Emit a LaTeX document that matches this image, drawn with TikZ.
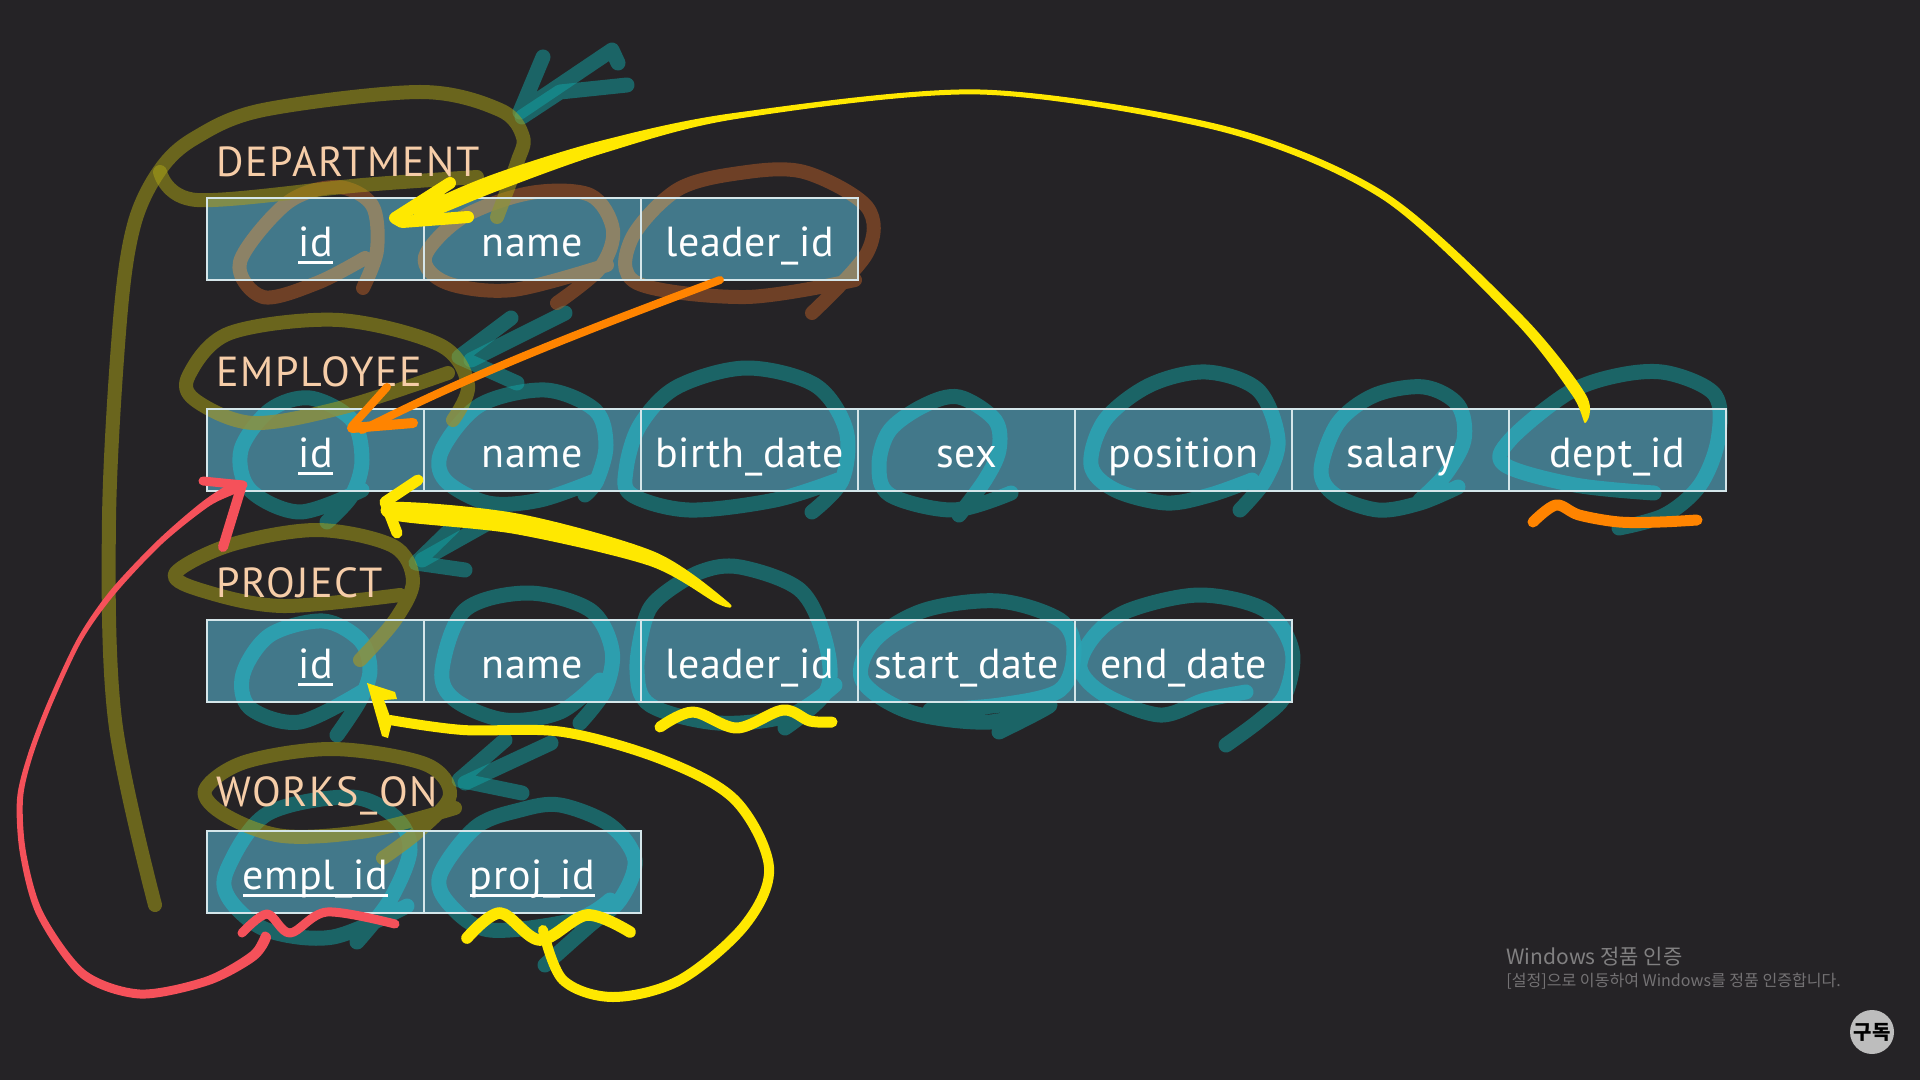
\documentclass[tikz,border=0pt]{standalone}
\usepackage{fontspec}
\setmainfont{PT Sans}
\newfontfamily\cellfont[LetterSpace=1.5]{PT Sans}
\newfontfamily\titlefont[LetterSpace=4]{PT Sans}
\newfontfamily\krfont{Noto Sans CJK KR}
\definecolor{bgc}{HTML}{252326}
\definecolor{cellc}{HTML}{42788A}
\definecolor{borderc}{HTML}{D5E6EA}
\definecolor{titlec}{HTML}{F6CDA8}
\definecolor{yel}{HTML}{FFE800}
\definecolor{org}{HTML}{FF8400}
\definecolor{redc}{HTML}{F5515A}
\definecolor{tealk}{HTML}{13A5A6}
\definecolor{olivek}{HTML}{AFA716}
\definecolor{brownk}{HTML}{B75D26}
\newcommand\ulx[1]{\setbox0\hbox{#1}\rlap{\rule[-3.6pt]{\wd0}{1.4pt}}\box0}
\tikzset{
  cellnode/.style={draw=borderc,line width=1pt,minimum width=108.5pt,minimum height=41pt,inner sep=0pt,
     text=white,font=\cellfont\fontsize{21}{22}\selectfont,text height=29.5pt,text depth=11.5pt},
  titlenode/.style={anchor=base west,inner sep=0pt,text=titlec,font=\titlefont\fontsize{21}{22}\selectfont},
  ink/.style={line width=7.5pt,line cap=round,line join=round},
  tealink/.style={ink,draw=tealk},
  oliveink/.style={ink,draw=olivek,line width=7pt},
  brownink/.style={ink,draw=brownk,line width=7pt},
  pen/.style={line cap=round,line join=round},
  smoothplot/.style={smooth,tension=.55},
}
\newcommand\inkstrokes{%
 % teal arrows
 \draw[tealink] (543,57) -- (520,112) -- (612,50) -- (618,63);
 \draw[tealink] (627,85) -- (560,92) -- (522,117);
 \draw[tealink] (511,318) -- (459,357) -- (517,383);
 \draw[tealink] (565,313) -- (471,360);
 \draw[tealink] (453,527) -- (416,563) -- (465,570);
 \draw[tealink] (488,523) -- (422,560);
 \draw[tealink] (505,740) -- (459,780) -- (522,793);
 \draw[tealink] (551,743) -- (465,783);
 % teal loops
 \draw[tealink] plot[smoothplot] coordinates {(362,490)(300,512)(250,490)(241,450)(270,410)(310,398)(352,420)(362,460)(352,495)(327,522)};
 \draw[tealink] plot[smoothplot] coordinates {(597,480)(540,500)(488,503)(445,480)(442,450)(480,405)(545,390)(595,410)(606,445)(597,480)(585,495)};
 \draw[tealink] plot[smoothplot] coordinates {(838,480)(775,500)(689,510)(632,495)(626,470)(640,425)(677,387)(746,368)(815,385)(846,430)(842,480)(812,512)};
 \draw[tealink] plot[smoothplot] coordinates {(1011,493)(953,510)(890,495)(879,465)(890,430)(925,405)(959,397)(995,420)(999,450)(985,480)(959,515)};
 \draw[tealink] plot[smoothplot] coordinates {(1252,480)(1210,495)(1166,503)(1115,490)(1091,465)(1105,420)(1150,385)(1206,372)(1258,390)(1278,440)(1265,480)(1240,510)};
 \draw[tealink] plot[smoothplot] coordinates {(1458,487)(1420,503)(1378,510)(1335,495)(1321,470)(1338,423)(1375,395)(1424,387)(1458,405)(1464,440)(1445,475)(1420,500)};
 \draw[tealink] plot[smoothplot] coordinates {(1654,493)(1575,485)(1505,465)(1510,440)(1568,393)(1620,375)(1668,373)(1715,395)(1718,440)(1700,485)(1665,515)(1619,528)};
 \draw[tealink] plot[smoothplot] coordinates {(365,690)(300,722)(250,708)(243,674)(270,635)(323,621)(360,640)(370,670)(360,700)(337,735)};
 \draw[tealink] plot[smoothplot] coordinates {(600,680)(560,712)(505,720)(455,700)(442,670)(465,610)(528,593)(590,610)(612,650)(605,690)(580,723)};
 \draw[tealink] plot[smoothplot] coordinates {(835,685)(790,715)(718,723)(650,705)(637,670)(645,620)(660,597)(700,572)(740,567)(800,590)(825,640)(827,690)(785,728)};
 \draw[tealink] plot[smoothplot] coordinates {(999,732)(1050,705)(990,722)(910,712)(862,680)(875,640)(925,610)(999,601)(1060,620)(1074,650)(1060,690)(1000,705)(930,710)};
 \draw[tealink] plot[smoothplot] coordinates {(1246,692)(1205,700)(1160,715)(1105,695)(1080,668)(1095,635)(1130,610)(1200,595)(1265,610)(1292,650)(1285,695)(1260,720)(1226,745)};
 \draw[tealink] plot[smoothplot] coordinates {(407,906)(333,937)(267,930)(230,900)(227,870)(267,814)(350,797)(395,817)(410,850)(390,900)(357,942)};
 \draw[tealink] plot[smoothplot] coordinates {(610,900)(575,920)(490,930)(450,905)(440,875)(476,827)(520,810)(560,805)(610,825)(635,860)(620,900)(590,925)(545,965)};
 % brown loops
 \draw[brownink] plot[smoothplot] coordinates {(365,258)(317,283)(263,297)(240,262)(287,203)(337,187)(372,205)(377,250)(363,288)};
 \draw[brownink] plot[smoothplot] coordinates {(607,265)(513,290)(447,283)(425,257)(463,217)(530,193)(590,195)(613,230)(600,268)(557,303)};
 \draw[brownink] plot[smoothplot] coordinates {(855,280)(746,297)(637,283)(631,240)(677,190)(740,173)(804,172)(867,207)(867,253)(812,313)};
 % olive
 \draw[oliveink] plot[smoothplot] coordinates {(155,905)(115,720)(109,520)(120,320)(134,225)(160,170)(195,138)(263,110)(420,92)(500,110)(523,137)(517,163)(497,217)};
 \draw[oliveink] plot[smoothplot] coordinates {(477,177)(363,185)(197,200)(160,172)};
 \draw[oliveink] plot[smoothplot] coordinates {(448,373)(344,407)(253,423)(195,400)(189,375)(230,333)(339,320)(440,345)(468,385)(453,420)};
 \draw[oliveink] plot[smoothplot] coordinates {(400,595)(283,606)(207,592)(175,574)(230,545)(317,530)(393,546)(413,581)(395,620)(360,660)};
 \draw[oliveink] plot[smoothplot] coordinates {(455,808)(367,831)(283,836)(225,815)(205,790)(245,762)(333,749)(425,764)(450,795)(420,830)(383,858)};
}
\begin{document}
\begin{tikzpicture}[x=0.5pt,y=-0.5pt]
\useasboundingbox (0,0) rectangle (1920,1080);
\fill[bgc] (0,0) rectangle (1920,1080);
% scribbles on the background
\begin{scope}[every path/.append style={draw opacity=.5}]
 \inkstrokes
\end{scope}
% cell fills
\fill[cellc] (207,198) rectangle (858,280) (207,408) rectangle (1726,491) (207,619) rectangle (1292,702) (207,830) rectangle (641,913);
% scribbles seen through the cells
\begin{scope}
 \clip (207,198) rectangle (858,280) (207,408) rectangle (1726,491) (207,619) rectangle (1292,702) (207,830) rectangle (641,913);
 \definecolor{tealk}{HTML}{2AA5B5}
 \definecolor{olivek}{HTML}{8C9040}
 \definecolor{brownk}{HTML}{9A8460}
 \begin{scope}[every path/.append style={draw opacity=.85}]
  \inkstrokes
 \end{scope}
\end{scope}
% tables
\node[titlenode] (tdept) at (216,176.5) {DEPARTMENT};
\foreach \n/\x/\t in {d1/315.5/\ulx{id},d2/532.5/name,d3/749.5/leader\_id}
  \node[cellnode] (\n) at (\x,239) {\t};
\node[titlenode] (temp) at (216,386.5) {EMPLOYEE};
\foreach \n/\x/\t in {e1/315.5/\ulx{id},e2/532.5/name,e3/749.5/birth\_date,e4/966.5/sex,e5/1183.5/position,e6/1400.5/salary,e7/1617.5/dept\_id}
  \node[cellnode] (\n) at (\x,449.5) {\t};
\node[titlenode] (tproj) at (216,597.5) {PROJECT};
\foreach \n/\x/\t in {p1/315.5/\ulx{id},p2/532.5/name,p3/749.5/leader\_id,p4/966.5/start\_date,p5/1183.5/end\_date}
  \node[cellnode] (\n) at (\x,660.5) {\t};
\node[titlenode] (twork) at (216,806.5) {WORKS\_ON};
\foreach \n/\x/\t in {w1/315.5/\ulx{empl\_id},w2/532.5/\ulx{proj\_id}}
  \node[cellnode] (\n) at (\x,871.5) {\t};
% orange
\coordinate (olead) at (720,280);
\coordinate (otip) at (362,430);
\draw[org,pen,line width=4pt] (olead) .. controls (600,325) and (480,370) .. (otip);
\draw[org,pen,line width=4pt] (387,387) -- (352,426);
\draw[org,pen,line width=5pt] (413,423) -- (352,428);
\draw[org,pen,line width=5.5pt] plot[smoothplot] coordinates {(1533,522)(1556,505)(1579,515)(1619,522)(1660,522)(1697,520)};
% yellow long arc
\coordinate (ydept) at (1585,423);
\coordinate (ytip) at (393,217);
\fill[yel,pen] plot[smooth cycle,tension=.5] coordinates {(1585,423)(1586,395)(1522,315)(1386,193)(1225,126)(980,89.5)(734,113)(600,141)(494,174)(425,204)(412,222)(433,217)(500,190)(604,153)(736,119)(980,94.5)(1223,132)(1382,199)(1514,321)(1572,395)};
\draw[yel,pen,line width=6pt] (450,183) -- (395,218) -- (402,222) -- (468,217);
\draw[yel,pen,line width=5pt] (398,217) -- (440,195);
% yellow project leader -> employee id
\coordinate (yleader) at (726,600);
\fill[yel,pen] plot[smooth cycle,tension=.5] coordinates {(728,602)(655,552)(520,514)(395,502)(392,520)(515,534)(650,566)(718,604)};
\draw[yel,pen,line width=5.5pt] (418,480) -- (385,502) -- (397,533);
% yellow leader underline
\draw[yel,pen,line width=5.5pt] plot[smoothplot] coordinates {(660,727)(693,712)(737,728)(783,710)(810,721)(832,722)};
% yellow proj_id -> project id
\draw[yel,pen,line width=5.8pt] plot[smoothplot] coordinates {(467,938)(500,913)(540,940)(587,915)(630,932)};
\draw[yel,pen,line width=5pt] plot[smoothplot] coordinates {(543,930)(563,980)(613,997)(680,980)(745,925)(769,867)(735,800)(663,760)(563,732)(463,730)(390,720)};
\fill[yel,pen] (367,683) -- (395,692) -- (397,699) -- (384,700) -- (392,722) -- (388,738) -- (382,736) -- cycle;
% red
\draw[redc,pen,line width=4.5pt] plot[smoothplot] coordinates {(395,924)(327,912)(290,933)(267,914)(242,933)};
\fill[redc,pen] plot[smooth cycle,tension=.5] coordinates {(271,938)(256,960)(209,985)(140,998.5)(81,978)(37,916)(20,854)(17,799)(27.6,755)(47.7,702)(78,637.5)(110.7,590)(158,540)(204.5,500)(238,480)(242,490)(209.5,506)(162,544)(115,594)(82,640.5)(52.3,704)(32.4,757)(23,799)(26,852)(43,912)(85,970)(140,989.5)(205,977)(250,952)(263,932)};
\draw[redc,pen,line width=4.5pt] (203,481) -- (243,485);
\draw[redc,pen,line width=5pt] (223,547) -- (241,488);
% watermark
\node[anchor=base west,inner sep=0pt,text=white!42!bgc,font=\krfont\fontsize{10.5}{12}\selectfont] (wm1) at (1506,964) {Windows 정품 인증};
\node[anchor=base west,inner sep=0pt,text=white!36!bgc,font=\krfont\fontsize{8.03}{9}\selectfont] (wm2) at (1506,986) {[설정]으로 이동하여 Windows를 정품 인증합니다.};
% subscribe badge
\node[circle,fill=black!26,minimum size=22pt,inner sep=0pt,text=black,font=\krfont\bfseries\fontsize{10}{11}\selectfont] (sub) at (1872,1032) {구독};
\end{tikzpicture}
\end{document}
